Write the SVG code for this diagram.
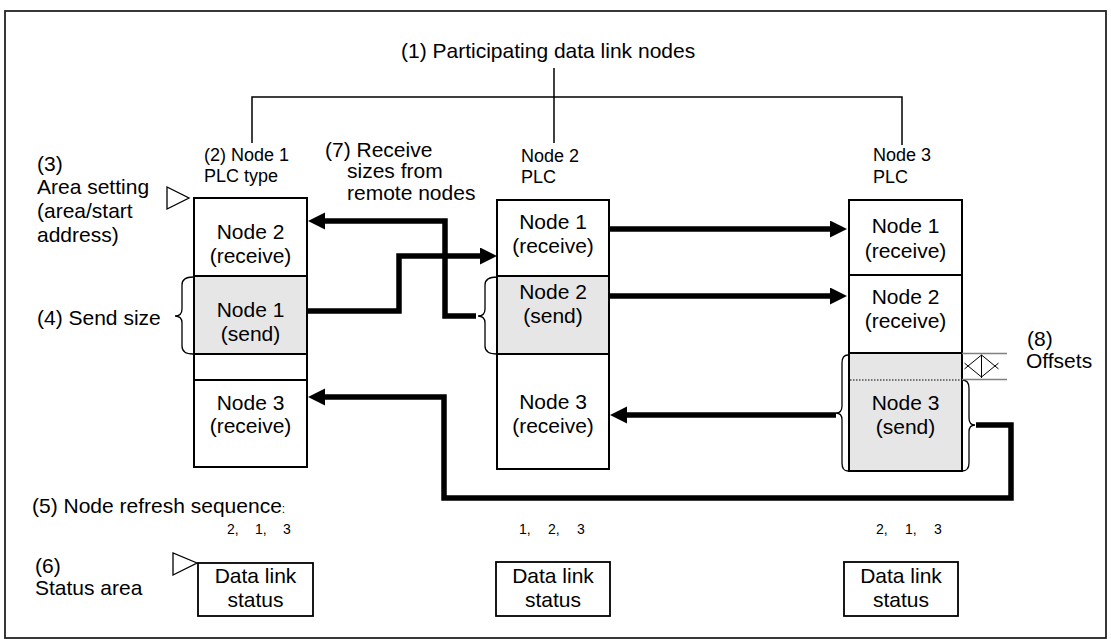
<svg xmlns="http://www.w3.org/2000/svg" width="1111" height="639" viewBox="0 0 1111 639">
<style>
text{font-family:"Liberation Sans",Arial,sans-serif;fill:#000}
.t21{font-size:21px}
.t18{font-size:18px}
.t14{font-size:14px}
.box{fill:#fff;stroke:#000;stroke-width:2}
.gray{fill:#e6e6e6;stroke:#000;stroke-width:2}
.thick{fill:none;stroke:#000;stroke-width:5.5}
.thin{fill:none;stroke:#000;stroke-width:1.5}
.brace{fill:none;stroke:#000;stroke-width:1.3}
.tri{fill:#fff;stroke:#000;stroke-width:1.3}
</style>
<defs>
<marker id="ah" markerUnits="userSpaceOnUse" markerWidth="18" markerHeight="18" viewBox="0 0 18 18" refX="7" refY="8.5" orient="auto">
<path d="M0,0 L17,8.5 L0,17 z" fill="#000"/>
</marker>
</defs>
<rect x="5" y="11" width="1101" height="627" fill="#fff" stroke="#222" stroke-width="1.8"/>

<g id="title">
<text class="t21" x="401" y="58">(1) Participating data link nodes</text>
<path class="thin" d="M554,68 V143 M252,143 V97 H902 V145"/>
</g>

<g id="label-area-setting">
<text class="t21" x="37" y="171">(3)</text>
<text class="t21" x="37" y="194">Area setting</text>
<text class="t21" x="37" y="218">(area/start</text>
<text class="t21" x="37" y="242">address)</text>
<polygon class="tri" points="167,187 167,209 189,198"/>
</g>

<g id="label-send-size">
<text class="t21" x="37" y="325">(4) Send size</text>
<path class="brace" d="M193,277 Q182,277 182,285 L182,309 Q182,316 175,316 Q182,316 182,323 L182,346 Q182,354 193,354"/>
</g>

<g id="label-receive-sizes">
<text class="t21" x="325" y="157">(7) Receive</text>
<text class="t21" x="347" y="178">sizes from</text>
<text class="t21" x="347" y="200">remote nodes</text>
</g>

<g id="node1">
<text class="t18" x="204" y="161">(2) Node 1</text>
<text class="t18" x="204" y="182">PLC type</text>
<rect class="box" x="194" y="198" width="113" height="78"/>
<rect class="gray" x="194" y="276" width="113" height="78"/>
<rect class="box" x="194" y="354" width="113" height="26"/>
<rect class="box" x="194" y="380" width="113" height="87"/>
<text class="t21" x="250.5" y="239" text-anchor="middle">Node 2</text>
<text class="t21" x="250.5" y="263" text-anchor="middle">(receive)</text>
<text class="t21" x="250.5" y="317" text-anchor="middle">Node 1</text>
<text class="t21" x="250.5" y="341" text-anchor="middle">(send)</text>
<text class="t21" x="250.5" y="410" text-anchor="middle">Node 3</text>
<text class="t21" x="250.5" y="433" text-anchor="middle">(receive)</text>
</g>

<g id="node2">
<text class="t18" x="521" y="162">Node 2</text>
<text class="t18" x="521" y="183">PLC</text>
<rect class="box" x="497" y="200" width="112" height="76"/>
<rect class="gray" x="497" y="276" width="112" height="78"/>
<rect class="box" x="497" y="354" width="112" height="115"/>
<text class="t21" x="553" y="229" text-anchor="middle">Node 1</text>
<text class="t21" x="553" y="253" text-anchor="middle">(receive)</text>
<text class="t21" x="553" y="299" text-anchor="middle">Node 2</text>
<text class="t21" x="553" y="323" text-anchor="middle">(send)</text>
<text class="t21" x="553" y="409" text-anchor="middle">Node 3</text>
<text class="t21" x="553" y="433" text-anchor="middle">(receive)</text>
<path class="brace" d="M497,277 Q485,277 485,285 L485,309 Q485,316 478,316 Q485,316 485,323 L485,346 Q485,354 497,354"/>
</g>

<g id="node3">
<text class="t18" x="873" y="161">Node 3</text>
<text class="t18" x="873" y="183">PLC</text>
<rect class="box" x="849" y="200" width="113" height="75"/>
<rect class="box" x="849" y="275" width="113" height="78"/>
<rect class="gray" x="849" y="353" width="113" height="118" stroke-width="2.5"/>
<line x1="850" y1="380" x2="961" y2="380" stroke="#000" stroke-width="1" stroke-dasharray="1.5,1.5"/>
<text class="t21" x="905.5" y="233" text-anchor="middle">Node 1</text>
<text class="t21" x="905.5" y="258" text-anchor="middle">(receive)</text>
<text class="t21" x="905.5" y="304" text-anchor="middle">Node 2</text>
<text class="t21" x="905.5" y="328" text-anchor="middle">(receive)</text>
<text class="t21" x="905.5" y="410" text-anchor="middle">Node 3</text>
<text class="t21" x="905.5" y="434" text-anchor="middle">(send)</text>
<path class="brace" d="M848,355 Q842,355 842,363 L842,406 Q842,413 836,413 Q842,413 842,420 L842,463 Q842,471 848,471"/>
<path class="brace" d="M962,380 Q969,380 969,388 L969,418 Q969,425 975,425 Q969,425 969,432 L969,463 Q969,471 962,471"/>
</g>

<g id="offsets">
<line x1="962" y1="353.5" x2="1007" y2="353.5" stroke="#808080" stroke-width="1.5"/>
<line x1="962" y1="379.5" x2="1007" y2="379.5" stroke="#808080" stroke-width="1.5"/>
<line x1="981.5" y1="355" x2="981.5" y2="378" stroke="#000" stroke-width="1"/>
<path d="M981.5,355 L964.5,368.9 M981.5,377 L964.5,363.1 M981.5,355 L998.5,368.9 M981.5,377 L998.5,363.1" stroke="#000" stroke-width="1" fill="none"/>
<text class="t21" x="1027" y="346">(8)</text>
<text class="t21" x="1026" y="368">Offsets</text>
</g>

<g id="connectors">
<path class="thick" d="M476,316 H445 V221 H318" marker-end="url(#ah)"/>
<path class="thick" d="M307,311 H399 V256 H487" marker-end="url(#ah)"/>
<path class="thick" d="M609,229 H837" marker-end="url(#ah)"/>
<path class="thick" d="M609,296 H837" marker-end="url(#ah)"/>
<path class="thick" d="M836,415 H620" marker-end="url(#ah)"/>
<path class="thick" d="M976,425 H1011 V498 H444 V397 H318" marker-end="url(#ah)"/>
</g>

<g id="refresh">
<text class="t21" x="32" y="513">(5) Node refresh sequence<tspan style="font-size:12px">:</tspan></text>
<text class="t14" y="534"><tspan x="227">2,</tspan><tspan x="255">1,</tspan><tspan x="283">3</tspan></text>
<text class="t14" y="534"><tspan x="519">1,</tspan><tspan x="548">2,</tspan><tspan x="577">3</tspan></text>
<text class="t14" y="534"><tspan x="876">2,</tspan><tspan x="905">1,</tspan><tspan x="934">3</tspan></text>
</g>

<g id="status-label">
<text class="t21" x="35" y="573">(6)</text>
<text class="t21" x="35" y="595">Status area</text>
<polygon class="tri" points="173,553 173,575 197,563"/>
</g>

<g id="status1">
<rect x="198" y="563" width="115" height="53" fill="#fff" stroke="#000" stroke-width="1.8"/>
<text class="t21" x="255.5" y="583" text-anchor="middle">Data link</text>
<text class="t21" x="255.5" y="607" text-anchor="middle">status</text>
</g>
<g id="status2">
<rect x="496" y="562" width="114" height="54" fill="#fff" stroke="#000" stroke-width="1.8"/>
<text class="t21" x="553" y="583" text-anchor="middle">Data link</text>
<text class="t21" x="553" y="607" text-anchor="middle">status</text>
</g>
<g id="status3">
<rect x="844" y="562" width="114" height="54" fill="#fff" stroke="#000" stroke-width="1.8"/>
<text class="t21" x="901" y="583" text-anchor="middle">Data link</text>
<text class="t21" x="901" y="607" text-anchor="middle">status</text>
</g>
</svg>
